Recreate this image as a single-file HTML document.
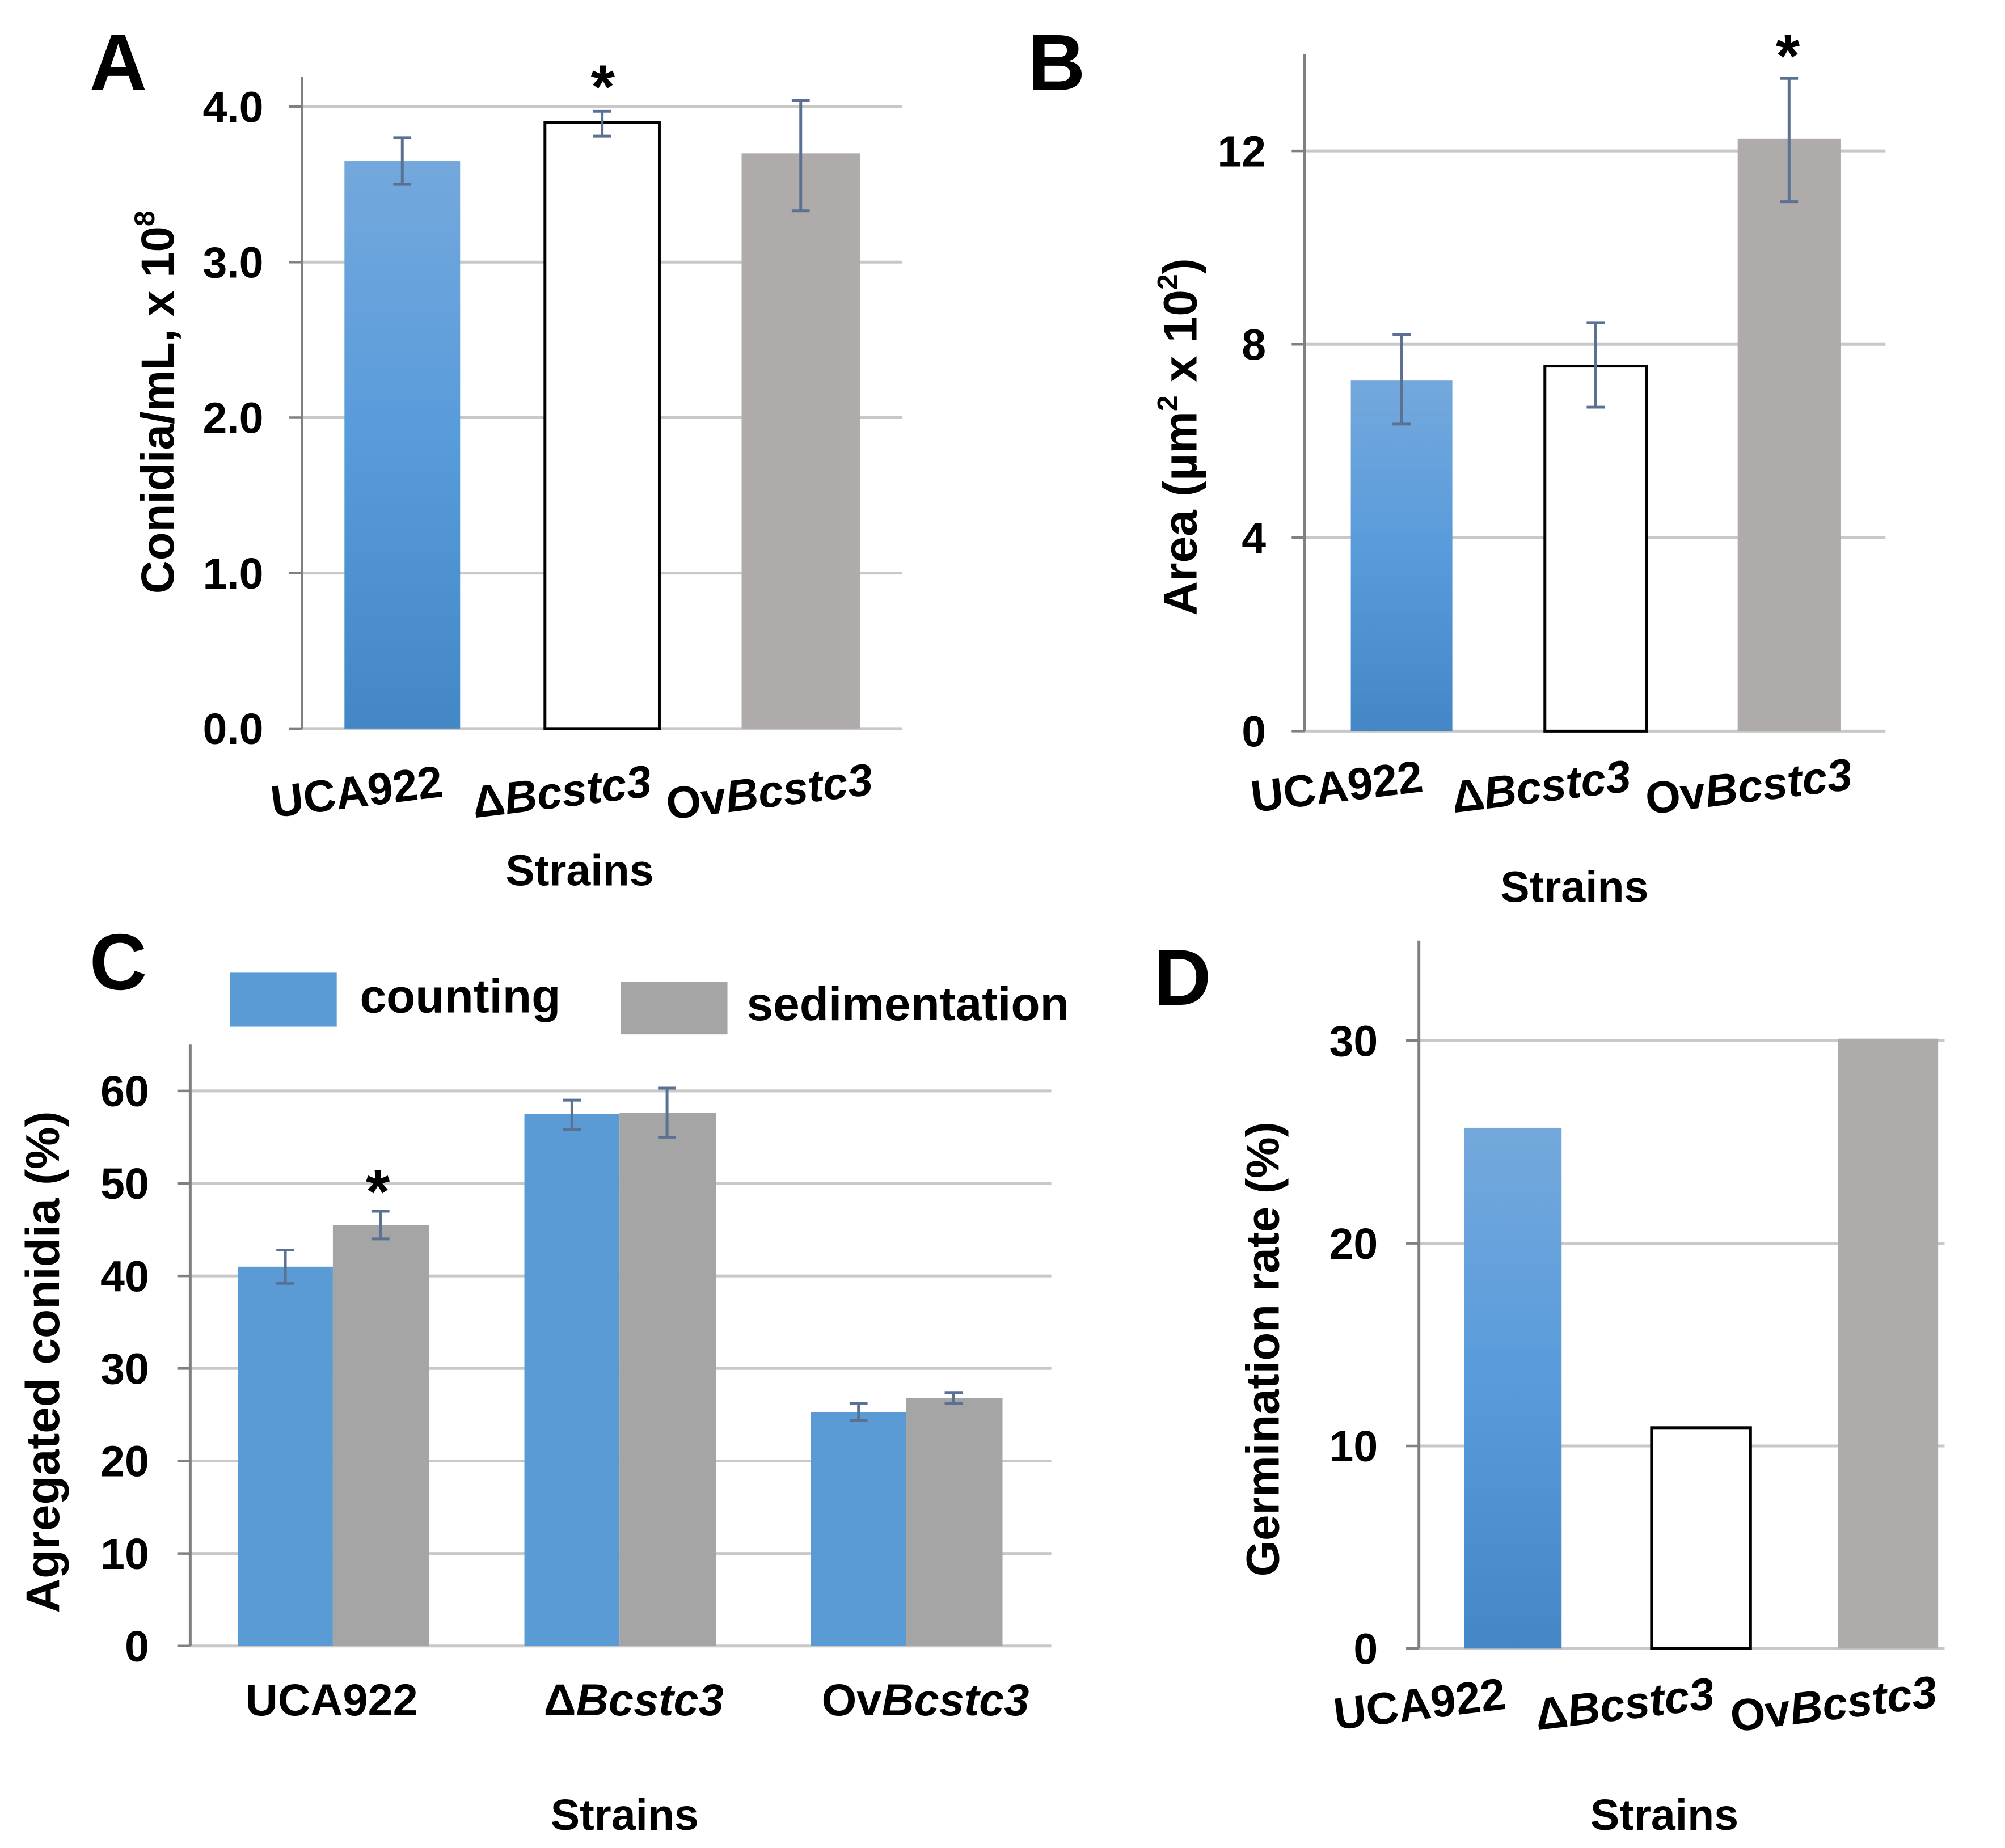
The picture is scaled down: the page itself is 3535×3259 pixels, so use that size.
<!DOCTYPE html>
<html><head><meta charset="utf-8">
<style>
html,body{margin:0;padding:0;background:#fff;}
svg{display:block;}
text{font-family:"Liberation Sans",Arial,sans-serif;font-weight:bold;fill:#000;}
</style></head>
<body>
<svg id="fig" xmlns="http://www.w3.org/2000/svg" width="3535" height="3259" viewBox="0 0 1560 1438.2">
<defs>
<linearGradient id="blueGrad" x1="0" y1="0" x2="0" y2="1">
<stop offset="0" stop-color="#74a8dc"/><stop offset="0.5" stop-color="#579bdb"/><stop offset="1" stop-color="#4387c6"/>
</linearGradient>
</defs>
<rect width="1560" height="1438.2" fill="#fff"/>
</svg>
<script>
const NS='http://www.w3.org/2000/svg';
const svg=document.getElementById('fig');

// Panel A data
const aCategories=['UCA922','ΔBcstc3','OvBcstc3'];
const aValues=[3.65,3.9,3.7];
const aErrLow=[3.5,3.81,3.33];
const aErrHigh=[3.8,3.97,4.04];
const aTicks=['0.0','1.0','2.0','3.0','4.0'];
const aTickValues=[0,1,2,3,4];
// Panel B data
const bValues=[7.25,7.55,12.25];
const bErrLow=[6.35,6.7,10.95];
const bErrHigh=[8.2,8.45,13.5];
const bTicks=['0','4','8','12'];
const bTickValues=[0,4,8,12];
// Panel C data
const cCounting=[41,57.5,25.3];
const cCountLow=[39.2,55.8,24.4];
const cCountHigh=[42.8,59,26.2];
const cSediment=[45.5,57.6,26.8];
const cSedLow=[44,55,26.2];
const cSedHigh=[47,60.3,27.4];
const cTicks=['0','10','20','30','40','50','60'];
const cTickValues=[0,10,20,30,40,50,60];
// Panel D data
const dValues=[25.7,10.9,30.1];
const dTicks=['0','10','20','30'];
const dTickValues=[0,10,20,30];

function el(tag,attrs,parent){const e=document.createElementNS(NS,tag);for(const k in attrs)e.setAttribute(k,attrs[k]);(parent||svg).appendChild(e);return e;}

function axes(g,x0,yTop,yBase,xRight,scale,tickVals,tickLbls,fs,lblX){
  tickVals.forEach((v,i)=>{
    const y=scale(v);
    const gl=el('line',{x1:x0,x2:xRight,y1:y,y2:y,stroke:'#c8c8c8','stroke-width':2.2},g);
    
    
    const tk=el('line',{x1:x0-10,x2:x0,y1:y,y2:y,stroke:'#808080','stroke-width':2},g);
    
    
    const t=el('text',{x:lblX,y:y+12,'text-anchor':'end','font-size':fs},g);
    t.textContent=tickLbls[i];
    
    
  });
  const ax=el('line',{x1:x0,x2:x0,y1:yTop,y2:yBase,stroke:'#808080','stroke-width':2.2},g);
  
  
}
function bar(g,x,w,v,scale,fill,stroke,name){
  const y=scale(v),b=scale(0);
  const r=el('rect',{x:x,y:y,width:w,height:b-y,fill:fill},g);
  if(stroke){r.setAttribute('stroke','#000');r.setAttribute('stroke-width',2.2);}
  
  
}
function errbar(g,cx,lo,hi,scale){
  const p=el('path',{d:`M${cx-7} ${scale(hi)}H${cx+7}M${cx} ${scale(hi)}V${scale(lo)}M${cx-7} ${scale(lo)}H${cx+7}`,stroke:'#5b7191','stroke-width':2.2,fill:'none'},g);
  
  
}
function label(g,x,y,txt,fs,name,anchor,rot){
  const t=el('text',{x:x,y:y,'font-size':fs,'text-anchor':anchor||'middle'},g);
  if(rot!==undefined)t.setAttribute('transform',`rotate(${rot} ${x} ${y})`);
  t.innerHTML=txt;
  
  
  return t;
}
function catLabel(c){
  if(c==='ΔBcstc3')return 'Δ<tspan font-style="italic">Bcstc3</tspan>';
  if(c==='OvBcstc3')return 'Ov<tspan font-style="italic">Bcstc3</tspan>';
  return c;
}
const fills=['url(#blueGrad)','#fff','#b0abab'];

// ---- Panel A ----
{
const g=el('g',{});
const sc=v=>567-v*121;
axes(g,235,60,567,702,sc,aTickValues,aTicks,34,205);
const xs=[268,424,577],ws=[90,89,92],off=[-34,-30,-23];
aValues.forEach((v,i)=>{bar(g,xs[i],ws[i],v,sc,fills[i],i===1,'bar-'+i);errbar(g,xs[i]+ws[i]/2,aErrLow[i],aErrHigh[i],sc);});
label(g,469,84,'*',48,'significance-star');
aCategories.forEach((c,i)=>label(g,xs[i]+ws[i]/2+off[i],628,catLabel(c),35,'x-tick-label','middle',-7));
label(g,451,689,'Strains',34,'x-axis-title');
label(g,135,313,'Conidia/mL, x 10<tspan font-size="22" dy="-15">8</tspan>',36,'y-axis-title','middle',-90);
label(g,92,70,'A',62,'panel-label-a');
}
// ---- Panel B ----
{
const g=el('g',{});
const sc=v=>569-v*37.63;
axes(g,1015,42,569,1467,sc,bTickValues,bTicks,34,985);
const xs=[1051,1202,1352],ws=[79,79,80],off=[-49,-41,-30];
bValues.forEach((v,i)=>{bar(g,xs[i],ws[i],v,sc,fills[i],i===1,'bar-'+i);errbar(g,xs[i]+ws[i]/2,bErrLow[i],bErrHigh[i],sc);});
label(g,1391,60,'*',48,'significance-star');
aCategories.forEach((c,i)=>label(g,xs[i]+ws[i]/2+off[i],624,catLabel(c),35,'x-tick-label','middle',-7));
label(g,1225,702,'Strains',34,'x-axis-title');
label(g,931,340,'Area (µm<tspan font-size="22" dy="-15">2</tspan><tspan dy="15"> x  10</tspan><tspan font-size="22" dy="-15">2</tspan><tspan dy="15">)</tspan>',37,'y-axis-title','middle',-90);
label(g,822,70,'B',62,'panel-label-b');
}
// ---- Panel C ----
{
const g=el('g',{});
const sc=v=>1281-v*7.2;
axes(g,148,813,1281,818,sc,cTickValues,cTicks,34,116);
const xs=[185,408,631],w=74;
cCounting.forEach((v,i)=>{bar(g,xs[i],w,v,sc,'#5b9bd5',false,'bar-counting-'+i);});
cSediment.forEach((v,i)=>{bar(g,xs[i]+w,w+1,v,sc,'#a5a5a5',false,'bar-sedimentation-'+i);});
cCounting.forEach((v,i)=>errbar(g,xs[i]+w/2,cCountLow[i],cCountHigh[i],sc));
cSediment.forEach((v,i)=>errbar(g,xs[i]+w*1.5,cSedLow[i],cSedHigh[i],sc));
label(g,294,944,'*',48,'significance-star');
const l1=el('rect',{x:179,y:757,width:83,height:42,fill:'#5b9bd5'},g);

label(g,280,788,'counting',37,'legend-label-counting','start');
const l2=el('rect',{x:483,y:764,width:83,height:41,fill:'#a5a5a5'},g);

label(g,581,794,'sedimentation',37,'legend-label-sedimentation','start');
const cx=[258,493,720];
aCategories.forEach((c,i)=>label(g,cx[i],1335,catLabel(c),35,'x-tick-label'));
label(g,486,1424,'Strains',34,'x-axis-title');
label(g,46,1060,'Agregated conidia  (%)',37,'y-axis-title','middle',-90);
label(g,92,770,'C',62,'panel-label-c');
}
// ---- Panel D ----
{
const g=el('g',{});
const sc=v=>1283-v*15.77;
axes(g,1104,732,1283,1513,sc,dTickValues,dTicks,34,1072);
const xs=[1139,1285,1430],ws=[76,77,78],off=[-71,-58,-41];
dValues.forEach((v,i)=>bar(g,xs[i],ws[i],v,sc,fills[i],i===1,'bar-'+i));
aCategories.forEach((c,i)=>label(g,xs[i]+ws[i]/2+off[i],1338,catLabel(c),35,'x-tick-label','middle',-7));
label(g,1295,1424,'Strains',34,'x-axis-title');
label(g,995,1050,'Germination rate (%)',36,'y-axis-title','middle',-90);
label(g,920,782,'D',62,'panel-label-d');
}
</script>
</body></html>
